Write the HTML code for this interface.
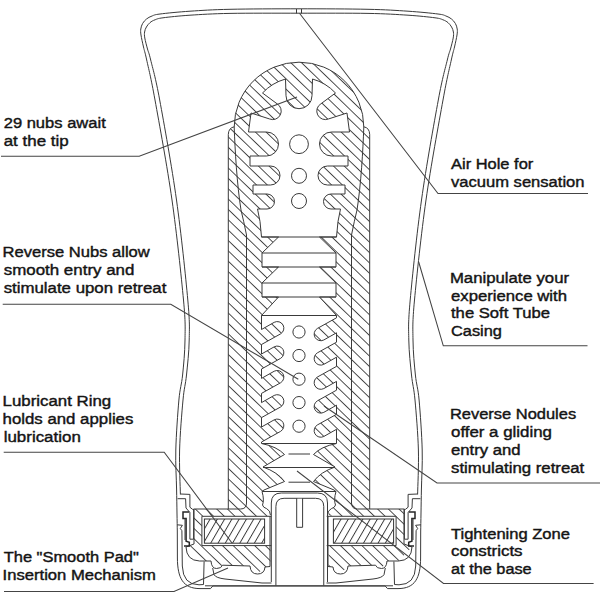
<!DOCTYPE html>
<html><head><meta charset="utf-8"><style>
html,body{margin:0;padding:0;background:#fff;}
svg{display:block;}
.ln{fill:none;stroke:#3a3a3a;stroke-width:1.0;}
.ld{fill:none;stroke:#444;stroke-width:1.05;}
text{font-family:"Liberation Sans",sans-serif;font-size:15.3px;fill:#141414;stroke:#141414;stroke-width:0.42px;}
</style></head><body>
<svg width="600" height="600" viewBox="0 0 600 600">
<defs>
<pattern id="h1" patternUnits="userSpaceOnUse" width="7.45" height="20" patternTransform="rotate(-46)"><rect x="0" y="0" width="0.9" height="20" fill="#3c3c3c"/></pattern>
<pattern id="h2" patternUnits="userSpaceOnUse" width="6.3" height="20" patternTransform="rotate(30)"><rect x="0" y="0" width="0.95" height="20" fill="#383838"/></pattern>
</defs>
<rect width="600" height="600" fill="#fff"/>
<path d="M194,509 L228.3,509 L228.3,134.5 L229,130.5 L231,128.2 L234.2,126.8 L234.2,127 L234.29,123.61 L234.55,120.23 L235,116.86 L235.62,113.53 L236.41,110.23 L237.37,106.98 L238.5,103.78 L239.8,100.64 L241.26,97.58 L242.88,94.6 L244.65,91.71 L246.58,88.91 L248.64,86.22 L250.84,83.64 L253.18,81.18 L255.64,78.84 L258.22,76.64 L260.91,74.58 L263.71,72.65 L266.6,70.88 L269.58,69.26 L272.64,67.8 L275.78,66.5 L278.98,65.37 L282.23,64.41 L285.53,63.62 L288.86,63 L292.23,62.55 L295.61,62.29 L299,62.2 L299,62.2 L302.39,62.29 L305.77,62.55 L309.14,63 L312.47,63.62 L315.77,64.41 L319.02,65.37 L322.22,66.5 L325.36,67.8 L328.42,69.26 L331.4,70.88 L334.29,72.65 L337.09,74.58 L339.78,76.64 L342.36,78.84 L344.82,81.18 L347.16,83.64 L349.36,86.22 L351.42,88.91 L353.35,91.71 L355.12,94.6 L356.74,97.58 L358.2,100.64 L359.5,103.78 L360.63,106.98 L361.59,110.23 L362.38,113.53 L363,116.86 L363.45,120.23 L363.71,123.61 L363.8,127 L363.8,126.8 L367,128.2 L369,130.5 L369.7,134.5 L369.7,509 L404,509 L404,509 L404,544 L412,547 L398.5,561 L387,561 L381.5,568.5 L375.5,565.2 L348,566 L340.5,574 L333,567 L328,566.5 L270,566.5 L265,567 L257.5,574 L250,566 L222.5,565.2 L216.5,568.5 L211,561 L199.5,561 L186,547 L194,544 L194,509 Z" fill="url(#h1)"/>
<path d="M299,108.7 A13,13 0 0 1 286,95.7 L285.5,79 A50,50 0 0 0 262.5,93 L277.1,103.8 A8.5,8.5 0 0 1 269.5,118.95 L251,113 L248.5,132 L266.5,132 A12,12 0 0 1 266.5,156 L250,156 L250,166 L270.5,166 A9.5,9.5 0 0 1 270.5,185 L253,185 L253,194 L267,194 A7.5,7.5 0 0 1 267,209 L257.5,209 Q260.5,220 261.5,237 L278.5,237 L262,253 L262,267 L278.5,267 L262,283 L262,297 L278.5,297 L261.5,315.5 L261.5,329.5 L274.2,322.33 A6.6,6.6 0 0 1 280.6,333.87 L261.5,344.5 L261.5,354 L274.2,346.83 A6.6,6.6 0 0 1 280.6,358.37 L261.5,369 L261.5,378.4 L274.2,371.23 A6.6,6.6 0 0 1 280.6,382.77 L261.5,393.4 L261.5,402.6 L274.2,395.43 A6.6,6.6 0 0 1 280.6,406.97 L261.5,417.6 L261.5,427 L274.2,419.83 A6.6,6.6 0 0 1 280.6,431.37 L261.5,442 L261.5,443.5 Q277,446.5 284.5,454.5 L263,467 Q277.5,472 284.5,481.5 L264,490 L262,491.5 L299,491.5 L301,491.5 L301,108.7 Z" fill="#fff"/>
<path d="M299,108.7 A13,13 0 0 0 312,95.7 L312.5,79 A50,50 0 0 1 335.5,93 L320.9,103.8 A8.5,8.5 0 0 0 328.5,118.95 L347,113 L349.5,132 L331.5,132 A12,12 0 0 0 331.5,156 L348,156 L348,166 L327.5,166 A9.5,9.5 0 0 0 327.5,185 L345,185 L345,194 L331,194 A7.5,7.5 0 0 0 331,209 L340.5,209 Q337.5,220 336.5,237 L319.5,237 L336,253 L336,267 L319.5,267 L336,283 L336,297 L319.5,297 L336.5,315.5 L336.5,317.8 L317.4,328.43 A6.6,6.6 0 0 0 323.8,339.97 L336.5,332.8 L336.5,342.2 L317.4,352.83 A6.6,6.6 0 0 0 323.8,364.37 L336.5,357.2 L336.5,366.4 L317.4,377.03 A6.6,6.6 0 0 0 323.8,388.57 L336.5,381.4 L336.5,390.2 L317.4,400.83 A6.6,6.6 0 0 0 323.8,412.37 L336.5,405.2 L336.5,414.3 L317.4,424.93 A6.6,6.6 0 0 0 323.8,436.47 L336.5,429.3 L336.5,443.5 Q321,446.5 313.5,454.5 L335,467 Q320.5,472 313.5,481.5 L334,490 L336,491.5 L299,491.5 L297,491.5 L297,108.7 Z" fill="#fff"/>
<path d="M262,491.5 Q264.5,500 262.5,505 Q263,507.5 266.7,508.7 Q270.4,510.5 270.4,515 L264.6,516.5 L264.6,545.6 L270.4,545.6 L270.4,590 L328.6,590 L328.6,545.6 L333.4,545.6 L333.4,516.5 L328.6,515 Q328.6,510.5 332.3,508.7 Q336,507.5 336.5,505 Q334.5,500 336,491.5 Z" fill="#fff"/>
<path d="M271.3,516.3 L201.9,516.3 L201.9,545.6 L271.3,545.6 L271.3,516.3 Z" fill="#fff"/>
<path d="M271.3,516.3 L201.9,516.3 L201.9,545.6 L271.3,545.6" class="ln"/>
<rect x="204.4" y="519" width="60.2" height="24.2" fill="url(#h2)" stroke="#333" stroke-width="1.0"/>
<path d="M326.7,516.3 L396.1,516.3 L396.1,545.6 L326.7,545.6 L271.3,516.3 Z" fill="#fff"/>
<path d="M326.7,516.3 L396.1,516.3 L396.1,545.6 L326.7,545.6" class="ln"/>
<rect x="333.4" y="519" width="60.2" height="24.2" fill="url(#h2)" stroke="#333" stroke-width="1.0"/>
<path d="M299,108.7 A13,13 0 0 1 286,95.7 L285.5,79 A50,50 0 0 0 262.5,93 L277.1,103.8 A8.5,8.5 0 0 1 269.5,118.95 L251,113 L248.5,132 L266.5,132 A12,12 0 0 1 266.5,156 L250,156 L250,166 L270.5,166 A9.5,9.5 0 0 1 270.5,185 L253,185 L253,194 L267,194 A7.5,7.5 0 0 1 267,209 L257.5,209 Q260.5,220 261.5,237 L278.5,237 L262,253 L262,267 L278.5,267 L262,283 L262,297 L278.5,297 L261.5,315.5 L261.5,329.5 L274.2,322.33 A6.6,6.6 0 0 1 280.6,333.87 L261.5,344.5 L261.5,354 L274.2,346.83 A6.6,6.6 0 0 1 280.6,358.37 L261.5,369 L261.5,378.4 L274.2,371.23 A6.6,6.6 0 0 1 280.6,382.77 L261.5,393.4 L261.5,402.6 L274.2,395.43 A6.6,6.6 0 0 1 280.6,406.97 L261.5,417.6 L261.5,427 L274.2,419.83 A6.6,6.6 0 0 1 280.6,431.37 L261.5,442 L261.5,443.5 Q277,446.5 284.5,454.5 L263,467 Q277.5,472 284.5,481.5 L264,490 L262,491.5 L299,491.5" class="ln"/>
<path d="M299,108.7 A13,13 0 0 0 312,95.7 L312.5,79 A50,50 0 0 1 335.5,93 L320.9,103.8 A8.5,8.5 0 0 0 328.5,118.95 L347,113 L349.5,132 L331.5,132 A12,12 0 0 0 331.5,156 L348,156 L348,166 L327.5,166 A9.5,9.5 0 0 0 327.5,185 L345,185 L345,194 L331,194 A7.5,7.5 0 0 0 331,209 L340.5,209 Q337.5,220 336.5,237 L319.5,237 L336,253 L336,267 L319.5,267 L336,283 L336,297 L319.5,297 L336.5,315.5 L336.5,317.8 L317.4,328.43 A6.6,6.6 0 0 0 323.8,339.97 L336.5,332.8 L336.5,342.2 L317.4,352.83 A6.6,6.6 0 0 0 323.8,364.37 L336.5,357.2 L336.5,366.4 L317.4,377.03 A6.6,6.6 0 0 0 323.8,388.57 L336.5,381.4 L336.5,390.2 L317.4,400.83 A6.6,6.6 0 0 0 323.8,412.37 L336.5,405.2 L336.5,414.3 L317.4,424.93 A6.6,6.6 0 0 0 323.8,436.47 L336.5,429.3 L336.5,443.5 Q321,446.5 313.5,454.5 L335,467 Q320.5,472 313.5,481.5 L334,490 L336,491.5 L299,491.5" class="ln"/>
<line x1="261.5" y1="237" x2="336.5" y2="237" class="ln"/>
<line x1="262" y1="253" x2="336" y2="253" class="ln"/>
<line x1="262" y1="267" x2="336" y2="267" class="ln"/>
<line x1="262" y1="283" x2="336" y2="283" class="ln"/>
<line x1="262" y1="297" x2="336" y2="297" class="ln"/>
<line x1="261.5" y1="315.5" x2="336.5" y2="315.5" class="ln"/>
<line x1="262" y1="443.5" x2="336" y2="443.5" class="ln"/>
<line x1="263" y1="467.5" x2="335" y2="467.5" class="ln"/>
<line x1="262" y1="491.5" x2="336" y2="491.5" class="ln"/>
<line x1="288.5" y1="454" x2="310" y2="454" class="ln"/>
<line x1="288.5" y1="482.2" x2="310" y2="482.2" class="ln"/>
<circle cx="299" cy="144.2" r="9.4" class="ln"/>
<circle cx="299" cy="175.8" r="7.5" class="ln"/>
<circle cx="299" cy="201" r="7.5" class="ln"/>
<circle cx="299" cy="332" r="6.1" class="ln"/>
<circle cx="299" cy="355.5" r="6.1" class="ln"/>
<circle cx="299" cy="379.2" r="6.1" class="ln"/>
<circle cx="299" cy="402.6" r="6.1" class="ln"/>
<circle cx="299" cy="426.2" r="6.1" class="ln"/>
<path d="M299,62.2 A64.8,64.8 0 0 0 234.2,127 C235,150 237,185 241,210 Q243.5,220 246.5,235 L246.5,503 Q246.5,509 240.5,509 L194,509" class="ln" />
<path d="M299,62.2 A64.8,64.8 0 0 1 363.8,127 C363,150 361,185 357,210 Q354.5,220 351.5,235 L351.5,503 Q351.5,509 357.5,509 L404,509" class="ln" />
<path d="M228.3,509 L228.3,134.5 Q228.5,127.8 234.2,126.8" class="ln" />
<path d="M369.7,509 L369.7,134.5 Q369.5,127.8 363.8,126.8" class="ln" />
<path d="M177.3,531 C177.18,524.17 176.85,503.5 176.6,490 C176.35,476.5 175.42,465 175.8,450 C176.18,435 177.77,412.5 178.9,400 C180.03,387.5 181.58,385 182.6,375 C183.62,365 184.85,352.5 185,340 C185.15,327.5 185.67,323.33 183.5,300 C181.33,276.67 176.75,233.33 172,200 C167.25,166.67 159.22,123.33 155,100 C150.78,76.67 148.62,68.83 146.7,60 C144.78,51.17 144.45,51.17 143.5,47 C142.55,42.83 141.45,38 141,35 C140.55,32 140.53,30.92 140.8,29 C141.07,27.08 141.65,25.17 142.6,23.5 C143.55,21.83 144.93,20.25 146.5,19 C148.07,17.75 149.75,16.83 152,16 C154.25,15.17 153.67,14.8 160,14 C166.33,13.2 178.33,11.98 190,11.2 C201.67,10.42 211.83,9.7 230,9.3 C248.17,8.9 276,8.8 299,8.8 C322,8.8 349.83,8.9 368,9.3 C386.17,9.7 396.33,10.42 408,11.2 C419.67,11.98 431.67,13.2 438,14 C444.33,14.8 443.75,15.17 446,16 C448.25,16.83 449.93,17.75 451.5,19 C453.07,20.25 454.45,21.83 455.4,23.5 C456.35,25.17 456.93,27.08 457.2,29 C457.47,30.92 457.45,32 457,35 C456.55,38 455.45,42.83 454.5,47 C453.55,51.17 453.22,51.17 451.3,60 C449.38,68.83 447.22,76.67 443,100 C438.78,123.33 430.75,166.67 426,200 C421.25,233.33 416.67,276.67 414.5,300 C412.33,323.33 412.85,327.5 413,340 C413.15,352.5 414.38,365 415.4,375 C416.42,385 417.97,387.5 419.1,400 C420.23,412.5 421.82,435 422.2,450 C422.58,465 421.65,476.5 421.4,490 C421.15,503.5 420.82,524.17 420.7,531" class="ln"/>
<path d="M180.4,494.5 C180.27,487.08 179.17,465.75 179.6,450 C180.03,434.25 181.85,412.5 183,400 C184.15,387.5 185.47,385 186.5,375 C187.53,365 188.98,352.5 189.2,340 C189.42,327.5 189.92,323.33 187.8,300 C185.68,276.67 181.18,233.33 176.5,200 C171.82,166.67 164,123.33 159.7,100 C155.4,76.67 152.73,68.5 150.7,60 C148.67,51.5 148.48,52.67 147.5,49 C146.52,45.33 145.28,40.83 144.8,38 C144.32,35.17 144.33,33.83 144.6,32 C144.87,30.17 145.5,28.57 146.4,27 C147.3,25.43 148.57,23.8 150,22.6 C151.43,21.4 152.83,20.6 155,19.8 C157.17,19 157.17,18.57 163,17.8 C168.83,17.03 178.83,15.93 190,15.2 C201.17,14.47 211.83,13.73 230,13.4 C248.17,13.07 276,13.2 299,13.2 C322,13.2 349.83,13.07 368,13.4 C386.17,13.73 396.83,14.47 408,15.2 C419.17,15.93 429.17,17.03 435,17.8 C440.83,18.57 440.83,19 443,19.8 C445.17,20.6 446.57,21.4 448,22.6 C449.43,23.8 450.7,25.43 451.6,27 C452.5,28.57 453.13,30.17 453.4,32 C453.67,33.83 453.68,35.17 453.2,38 C452.72,40.83 451.48,45.33 450.5,49 C449.52,52.67 449.33,51.5 447.3,60 C445.27,68.5 442.6,76.67 438.3,100 C434,123.33 426.18,166.67 421.5,200 C416.82,233.33 412.32,276.67 410.2,300 C408.08,323.33 408.58,327.5 408.8,340 C409.02,352.5 410.47,365 411.5,375 C412.53,385 413.85,387.5 415,400 C416.15,412.5 417.97,434.25 418.4,450 C418.83,465.75 417.73,487.08 417.6,494.5" class="ln"/>
<path d="M177.3,531 L177.4,558 C177.5,578 183,588.6 200,588.6 L210.5,588.6 L212.8,586 L299,586" class="ln" />
<path d="M420.7,531 L420.6,558 C420.5,578 415,588.6 398,588.6 L387.5,588.6 L385.2,586 L299,586" class="ln" />
<path d="M180.5,494 L189.9,494.4 L189.9,507.2 L192.5,509.3 L194,509.3 M193.6,509.3 L193.6,539.2 L189.9,539.2 L189.9,512.5 L186,508 L185.6,498.7 L177.6,498.7" class="ln" />
<path d="M417.5,494 L408.1,494.4 L408.1,507.2 L405.5,509.3 L404,509.3 M404.4,509.3 L404.4,539.2 L408.1,539.2 L408.1,512.5 L412,508 L412.4,498.7 L420.4,498.7" class="ln" />
<path d="M177.2,524.8 L182.4,525.3 L180.3,528.5 L181.9,530.7" class="ln" />
<path d="M420.8,524.8 L415.6,525.3 L417.7,528.5 L416.1,530.7" class="ln" />
<path d="M181.9,530.7 L182.3,566 Q183,584.8 199,584.8 L203.5,584.5 L204.1,561.5" class="ln" />
<path d="M416.1,530.7 L415.7,566 Q415,584.8 399,584.8 L394.5,584.5 L393.9,561.5" class="ln" />
<path d="M194,509 L194,544 L186,547 Q186.5,560.5 199.5,561 L211,561 Q211.5,568.5 216.5,568.5 Q221.5,568.5 222.5,565.2 L250,566 Q250.5,574 257.5,574 Q264.5,574 265,567 L270,566.5 L270,516" class="ln" />
<path d="M404,509 L404,544 L412,547 Q411.5,560.5 398.5,561 L387,561 Q386.5,568.5 381.5,568.5 Q376.5,568.5 375.5,565.2 L348,566 Q347.5,574 340.5,574 Q333.5,574 333,567 L328,566.5 L328,516" class="ln" />
<path d="M212.7,568 L214,574.7 Q216,578 225,579 L262,583 L271.5,583" class="ln" />
<path d="M385.3,568 L384,574.7 Q382,578 373,579 L336,583 L326.5,583" class="ln" />
<path d="M189.3,512 L183,512 L183,518.4 L186.1,518.4 L186.1,541.3 L189.3,542.4 L189.3,546.1 L184,546.1" fill="none" stroke="#262626" stroke-width="1.5"/>
<path d="M408.7,512 L415,512 L415,518.4 L411.9,518.4 L411.9,541.3 L408.7,542.4 L408.7,546.1 L414,546.1" fill="none" stroke="#262626" stroke-width="1.5"/>
<path d="M185,518.4 L185,540" class="ln" />
<path d="M413,518.4 L413,540" class="ln" />
<path d="M262,491.5 Q264.5,500 262.5,505 Q263,507.5 266.7,508.7 Q270.4,510.5 270.4,515" class="ln" />
<path d="M336,491.5 Q333.5,500 335.5,505 Q335,507.5 331.3,508.7 Q327.6,510.5 327.6,515" class="ln" />
<path d="M271.3,582 L271.3,503 Q271.3,493 281.3,493 L317.5,493 Q327.5,493 327.5,503 L327.5,582" class="ln"/>
<path d="M275.9,585.5 L275.9,506.5 Q275.9,498.3 284.1,498.3 L315.5,498.3 Q323.75,498.3 323.75,506.5 L323.75,585.5" class="ln"/>
<rect x="297.2" y="498.8" width="5" height="28.2" fill="#fff"/><path d="M296.7,498.3 L296.7,527.3 L302.6,527.3 L302.6,498.3" class="ln"/>
<line x1="205" y1="585.8" x2="393" y2="585.8" class="ln"/>
<line x1="296.5" y1="9" x2="296.5" y2="13.4" class="ln"/><line x1="301.5" y1="9" x2="301.5" y2="13.4" class="ln"/>
<path d="M1,156.3 L139.2,156.3 L297,97" class="ld"/>
<path d="M2.7,304.3 L170.8,304.3 L298.3,379.2" class="ld"/>
<path d="M3.7,452.3 L164.2,452.3 L232,543" class="ld"/>
<path d="M4,591.5 L174,591.5 L228,568" class="ld"/>
<path d="M299.5,13.2 L438,193.5 L588,193.5" class="ld"/>
<path d="M418.7,262 L443.3,345.8 L587.5,345.8" class="ld"/>
<path d="M324,406 L437,483 L600,483" class="ld"/>
<path d="M297,471 L443.5,583.4 L593.6,583.4" class="ld"/>
<text x="3.7" y="128.1" textLength="102.06" lengthAdjust="spacingAndGlyphs">29 nubs await</text>
<text x="3.7" y="146.2" textLength="64.95" lengthAdjust="spacingAndGlyphs">at the tip</text>
<text x="2.62" y="256.7" textLength="147.13" lengthAdjust="spacingAndGlyphs">Reverse Nubs allow</text>
<text x="3.7" y="274.8" textLength="130.72" lengthAdjust="spacingAndGlyphs">smooth entry and</text>
<text x="3.7" y="292.9" textLength="162.65" lengthAdjust="spacingAndGlyphs">stimulate upon retreat</text>
<text x="2.6" y="405.8" textLength="108.61" lengthAdjust="spacingAndGlyphs">Lubricant Ring</text>
<text x="2.6" y="423.8" textLength="130.78" lengthAdjust="spacingAndGlyphs">holds and applies</text>
<text x="3.7" y="441.9" textLength="77.11" lengthAdjust="spacingAndGlyphs">lubrication</text>
<text x="3.7" y="561.8" textLength="135.13" lengthAdjust="spacingAndGlyphs">The &quot;Smooth Pad&quot;</text>
<text x="2.61" y="579.6" textLength="153.34" lengthAdjust="spacingAndGlyphs">Insertion Mechanism</text>
<text x="451" y="168.8" textLength="82.28" lengthAdjust="spacingAndGlyphs">Air Hole for</text>
<text x="451" y="186.6" textLength="133.52" lengthAdjust="spacingAndGlyphs">vacuum sensation</text>
<text x="449.91" y="282.8" textLength="119.12" lengthAdjust="spacingAndGlyphs">Manipulate your</text>
<text x="451" y="300.5" textLength="116.02" lengthAdjust="spacingAndGlyphs">experience with</text>
<text x="451" y="318.4" textLength="99" lengthAdjust="spacingAndGlyphs">the Soft Tube</text>
<text x="451" y="335.9" textLength="50.97" lengthAdjust="spacingAndGlyphs">Casing</text>
<text x="449.92" y="419" textLength="126.25" lengthAdjust="spacingAndGlyphs">Reverse Nodules</text>
<text x="451" y="436.8" textLength="100.94" lengthAdjust="spacingAndGlyphs">offer a gliding</text>
<text x="451" y="454.7" textLength="69.55" lengthAdjust="spacingAndGlyphs">entry and</text>
<text x="451" y="472.7" textLength="133.24" lengthAdjust="spacingAndGlyphs">stimulating retreat</text>
<text x="451" y="538.7" textLength="118.98" lengthAdjust="spacingAndGlyphs">Tightening Zone</text>
<text x="451" y="556.4" textLength="71.57" lengthAdjust="spacingAndGlyphs">constricts</text>
<text x="451" y="574.3" textLength="80.68" lengthAdjust="spacingAndGlyphs">at the base</text>
</svg></body></html>
